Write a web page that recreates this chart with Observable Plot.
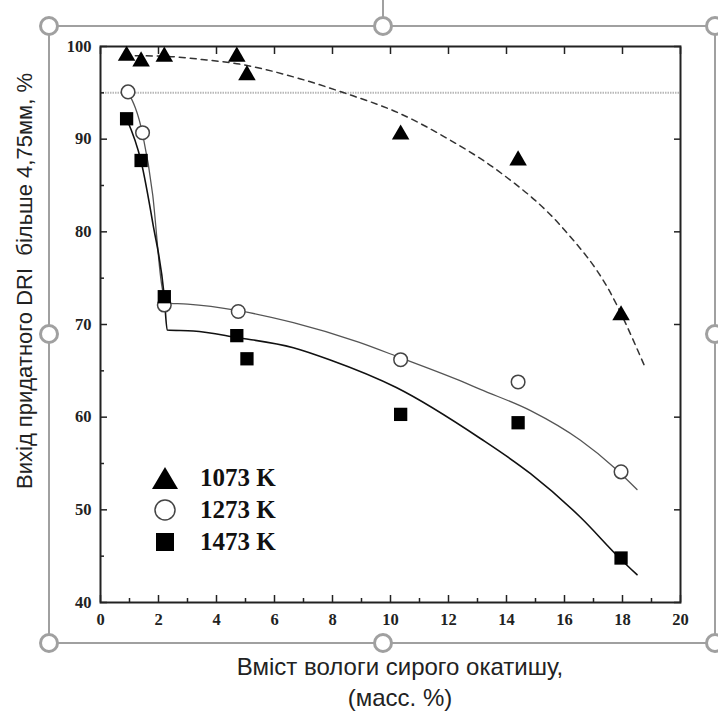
<!DOCTYPE html>
<html>
<head>
<meta charset="utf-8">
<script src="https://cdn.jsdelivr.net/npm/d3@7"></script>
<script src="https://cdn.jsdelivr.net/npm/@observablehq/plot@0.6"></script>
<style>
  html, body { margin: 0; padding: 0; background: #fff; }
  #wrap { position: relative; width: 718px; height: 716px; overflow: hidden; }
  #chart { position: absolute; left: 0; top: 0; }
  .sel-line { position: absolute; background: #a0a0a0; }
  .handle { position: absolute; width: 14px; height: 14px; border: 3px solid #a0a0a0; border-radius: 50%; background: #fff; box-sizing: content-box; }
  .ylab { position: absolute; left: 25px; top: 281px; transform: translate(-50%, -50%) rotate(-90deg); white-space: pre; font-family: "Liberation Sans", Arial, sans-serif; font-size: 22px; color: #222; }
  .xlab { position: absolute; left: 400px; width: 0; display: flex; justify-content: center; white-space: nowrap; font-family: "Liberation Sans", Arial, sans-serif; font-size: 24px; color: #222; }
  .legend { position: absolute; left: 150px; top: 462px; font-family: "Liberation Serif", "Times New Roman", serif; font-weight: bold; font-size: 25px; color: #111; }
  .legend div { display: flex; align-items: center; height: 32px; }
  .legend svg { margin-right: 20px; }
</style>
</head>
<body>
<div id="wrap">
  <div id="chart"></div>
</div>
<script>
// ---- data ----
const seriesNames = ["1073 K", "1273 K", "1473 K"];

const moist1073 = [0.9, 1.4, 2.2, 4.7, 5.05, 10.35, 14.4, 17.95];
const yield1073 = [99.0, 98.4, 98.9, 98.9, 96.9, 90.5, 87.7, 71.0];

const moist1273 = [0.95, 1.45, 2.2, 4.75, 10.35, 14.4, 17.95];
const yield1273 = [95.1, 90.7, 72.1, 71.4, 66.2, 63.8, 54.1];

const moist1473 = [0.9, 1.4, 2.2, 4.7, 5.05, 10.35, 14.4, 17.95];
const yield1473 = [92.2, 87.7, 73.0, 68.8, 66.3, 60.3, 59.4, 44.8];

// hand-drawn trend curves
const curve1073X = [1.2, 2.2, 3.5, 4.8, 6.9, 8.4, 10.3, 12.0, 13.7, 16.0, 17.5, 18.75];
const curve1073Y = [99.0, 98.95, 98.6, 98.1, 96.5, 95.0, 92.8, 90.0, 86.6, 80.2, 73.9, 65.6];

const curve1273X = [0.95, 1.45, 1.8, 2.1, 2.25, 3.0, 4.75, 6.65, 8.9, 10.35, 12.5, 13.1, 14.83, 16.55, 17.7, 18.5];
const curve1273Y = [95.1, 90.6, 84.0, 74.5, 72.3, 72.2, 71.5, 70.2, 68.1, 66.4, 63.8, 63.0, 60.7, 57.5, 54.6, 52.2];

const curve1473X = [0.9, 1.4, 1.8, 2.2, 2.3, 3.2, 4.7, 6.65, 7.9, 10.2, 13.1, 14.83, 16.55, 17.93, 18.5];
const curve1473Y = [92.2, 87.6, 81.0, 73.0, 69.4, 69.3, 68.6, 67.5, 66.2, 63.2, 57.7, 53.9, 49.2, 44.7, 43.0];

const thresholdY = [95];

const xMajor = [0, 2, 4, 6, 8, 10, 12, 14, 16, 18, 20];
const xMinor = [1, 3, 5, 7, 9, 11, 13, 15, 17, 19];
const yMajor = [40, 50, 60, 70, 80, 90, 100];
const yMinor = [45, 55, 65, 75, 85, 95];

const xTitle1 = "Вміст вологи сирого окатишу,";
const xTitle2 = "(масс. %)";
const yTitle = "Вихід придатного DRI  більше 4,75мм, %";

// ---- build tables ----
const pts = (xs, ys) => xs.map((x, i) => ({x, y: ys[i]}));
const p1073 = pts(moist1073, yield1073);
const p1273 = pts(moist1273, yield1273);
const p1473 = pts(moist1473, yield1473);
const c1073 = pts(curve1073X, curve1073Y);
const c1273 = pts(curve1273X, curve1273Y);
const c1473 = pts(curve1473X, curve1473Y);

const serif = "'Liberation Serif', 'Times New Roman', serif";
const tickStyle = {stroke: "#222", strokeWidth: 1.5};

const chart = Plot.plot({
  width: 718,
  height: 716,
  marginTop: 46,
  marginBottom: 114,
  marginLeft: 100,
  marginRight: 38,
  style: {background: "transparent", overflow: "visible"},
  x: {domain: [0, 20]},
  y: {domain: [40, 100]},
  marks: [
    Plot.ruleY(thresholdY, {stroke: "#b8b8b8", strokeWidth: 2, strokeDasharray: "1.5,1"}),
    // bottom axis
    Plot.axisX({anchor: "bottom", ticks: xMajor, tickSize: 0, tickPadding: 11, label: null,
      fontFamily: serif, fontWeight: "bold", fontSize: 16.5, fill: "#222"}),
    Plot.axisX({anchor: "bottom", ticks: xMajor, tickSize: -7, tickFormat: () => "", label: null, ...tickStyle}),
    Plot.axisX({anchor: "bottom", ticks: xMinor, tickSize: -4, tickFormat: () => "", label: null, ...tickStyle}),
    Plot.axisX({anchor: "top", ticks: xMajor, tickSize: -7, tickFormat: () => "", label: null, ...tickStyle}),
    // left axis
    Plot.axisY({anchor: "left", ticks: yMajor, tickSize: 0, tickPadding: 9, label: null,
      fontFamily: serif, fontWeight: "bold", fontSize: 16.5, fill: "#222"}),
    Plot.axisY({anchor: "left", ticks: yMajor, tickSize: -7, tickFormat: () => "", label: null, ...tickStyle}),
    Plot.axisY({anchor: "left", ticks: yMinor, tickSize: -4, tickFormat: () => "", label: null, ...tickStyle}),
    Plot.axisY({anchor: "right", ticks: yMajor, tickSize: -7, tickFormat: () => "", label: null, ...tickStyle}),
    Plot.frame({stroke: "#222", strokeWidth: 2}),
    // trend curves
    Plot.line(c1073, {x: "x", y: "y", curve: "monotone-x", stroke: "#333", strokeWidth: 1.5, strokeDasharray: "6,5"}),
    Plot.line(c1273, {x: "x", y: "y", curve: "monotone-x", stroke: "#555", strokeWidth: 1.3}),
    Plot.line(c1473, {x: "x", y: "y", curve: "monotone-x", stroke: "#111", strokeWidth: 1.6}),
    // points
    Plot.dot(p1073, {x: "x", y: "y", symbol: "triangle", r: 6.5, fill: "#000", stroke: "none"}),
    Plot.dot(p1273, {x: "x", y: "y", symbol: "circle", r: 6.8, fill: "#fff", stroke: "#444", strokeWidth: 1.5}),
    Plot.dot(p1473, {x: "x", y: "y", symbol: "square", r: 7.5, fill: "#000", stroke: "none"})
  ]
});
document.getElementById("chart").appendChild(chart);

const wrap = document.getElementById("wrap");
function add(html) { wrap.insertAdjacentHTML("beforeend", html); }

// axis titles
add(`<div class="ylab">${yTitle}</div>`);
add(`<div class="xlab" style="top:653px">${xTitle1}</div>`);
add(`<div class="xlab" style="top:684px">${xTitle2}</div>`);

// legend
const legendSymbols = [
  `<svg width="30" height="26"><path d="M15,2 L28,24 L2,24 Z" fill="#000"/></svg>`,
  `<svg width="30" height="26"><circle cx="15" cy="13" r="10" fill="#fff" stroke="#444" stroke-width="1.5"/></svg>`,
  `<svg width="30" height="26"><rect x="6" y="4" width="18" height="18" fill="#000"/></svg>`
];
add(`<div class="legend">${seriesNames.map((n, i) => `<div>${legendSymbols[i]}<span>${n}</span></div>`).join("")}</div>`);

// selection frame decoration (as in the screenshot)
add(`<div class="sel-line" style="left:49px;top:25px;width:666px;height:2px"></div>`);
add(`<div class="sel-line" style="left:49px;top:642px;width:666px;height:2px"></div>`);
add(`<div class="sel-line" style="left:48px;top:25px;width:2px;height:618px"></div>`);
add(`<div class="sel-line" style="left:714px;top:25px;width:2px;height:618px"></div>`);
add(`<div class="sel-line" style="left:382px;top:0px;width:2px;height:18px"></div>`);
[[49,26],[383,26],[715,26],[49,334],[715,334],[49,643],[383,643],[715,643]].forEach(([cx, cy]) => {
  add(`<div class="handle" style="left:${cx-10}px;top:${cy-10}px"></div>`);
});
</script>
</body>
</html>
